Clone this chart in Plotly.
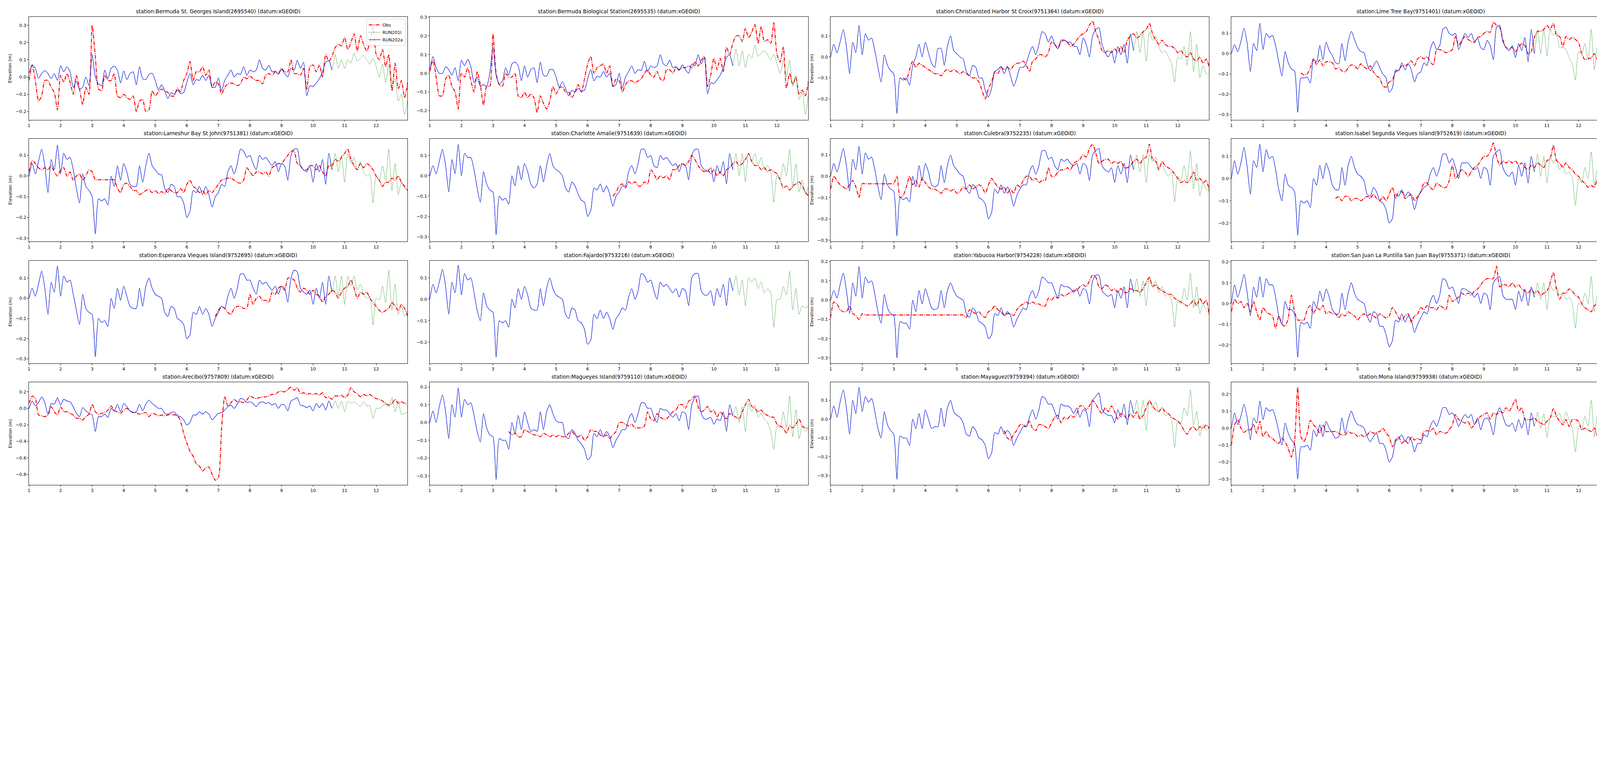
import plotly.graph_objects as go

# time axis (month number), shared by every panel
T = [round(1.0 + 0.1 * i, 1) for i in range(121)]

TITLES = [
    "station:Bermuda St. Georges Island(2695540) (datum:xGEOID)",
    "station:Bermuda Biological Station(2695535) (datum:xGEOID)",
    "station:Christiansted Harbor St Croix(9751364) (datum:xGEOID)",
    "station:Lime Tree Bay(9751401) (datum:xGEOID)",
    "station:Lameshur Bay St John(9751381) (datum:xGEOID)",
    "station:Charlotte Amalie(9751639) (datum:xGEOID)",
    "station:Culebra(9752235) (datum:xGEOID)",
    "station:Isabel Segunda Vieques Island(9752619) (datum:xGEOID)",
    "station:Esperanza Vieques Island(9752695) (datum:xGEOID)",
    "station:Fajardo(9753216) (datum:xGEOID)",
    "station:Yabucoa Harbor(9754228) (datum:xGEOID)",
    "station:San Juan La Puntilla San Juan Bay(9755371) (datum:xGEOID)",
    "station:Arecibo(9757809) (datum:xGEOID)",
    "station:Magueyes Island(9759110) (datum:xGEOID)",
    "station:Mayaguez(9759394) (datum:xGEOID)",
    "station:Mona Island(9759938) (datum:xGEOID)",
]
SERIES_NAMES = ["Obs", "RUN201l", "RUN202a"]
X_TICKS = list(range(1, 13))

# ---------------- 1 Bermuda St. Georges Island ----------------
obs_bsg = [
    -0.02, 0.07, -0.02, -0.14, -0.11, -0.02, -0.02, -0.06, -0.09, -0.19,
    0.01, -0.03, 0.02, -0.03, -0.1, 0.01, -0.07, -0.16, -0.06, -0.1,
    0.3, 0.12, -0.07, -0.08, 0.01, -0.02, -0.02, 0.02, -0.11, -0.12,
    -0.1, -0.12, -0.13, -0.11, -0.2, -0.14, -0.13, -0.2, -0.19, -0.08,
    -0.11, -0.085, -0.07, -0.08, -0.09, -0.11, -0.11, -0.065, -0.085, -0.02,
    0.02, 0.09, -0.02, 0.03, 0.03, 0.06, 0.01, 0.04, -0.06, -0.03,
    -0.04, -0.1, -0.06, -0.04, -0.035, -0.04, -0.05, -0.04, 0.0, -0.01,
    0.005, -0.01, -0.02, -0.02, -0.04, 0.01, 0.02, 0.01, 0.03, 0.02,
    0.05, 0.03, 0.03, 0.1, 0.02, 0.02, 0.01, 0.05, -0.07, 0.06,
    0.07, 0.03, 0.07, 0.0, 0.13, 0.09, 0.12, 0.17, 0.19, 0.18,
    0.23, 0.16, 0.2, 0.25, 0.15, 0.24, 0.19, 0.15, 0.2, 0.29,
    0.13, 0.1, 0.16, 0.06, 0.13, -0.08, 0.08, -0.07, -0.02, -0.12,
    -0.03,
]
mod_bsg = [
    0.025, 0.07, 0.05, -0.008, 0.02, 0.038, 0.02, -0.01, 0.02, -0.02,
    0.065, 0.03, 0.06, 0.03, -0.06, -0.025, -0.07, -0.06, 0.0, -0.05,
    0.13, 0.0, -0.04, -0.05, 0.04, -0.01, 0.05, 0.063, 0.04, -0.035,
    0.035, -0.015, 0.02, 0.03, -0.045, 0.06, -0.01, -0.015, 0.015, 0.022,
    -0.02, -0.075, -0.045, -0.08, -0.125, -0.09, -0.1, -0.075, -0.095, -0.09,
    -0.03, 0.02, -0.045, -0.015, -0.02, 0.01, -0.02, 0.01, -0.06, -0.06,
    -0.005, -0.08, -0.02, 0.01, 0.04, 0.0, 0.02, 0.015, 0.06, 0.01,
    0.04, 0.03, 0.04, 0.1, 0.05, 0.04, 0.068, 0.03, 0.035, 0.015,
    0.045, 0.02, 0.0, 0.05, 0.04, 0.097, 0.05, 0.085, -0.11, -0.05,
    -0.055, -0.035, -0.01, 0.03, 0.085, 0.095, 0.04,
]
tail_bsg = [
    0.13, 0.05, 0.1,
    0.05, 0.1, 0.08, 0.14, 0.09, 0.11, 0.125, 0.1, 0.075, 0.11,
    0.06, 0.0, 0.075, -0.03, 0.07, -0.07, -0.01, -0.14, -0.1, -0.22,
    -0.13,
]

# ---------------- 2 Bermuda Biological Station ----------------
obs_bbs = [
    0.01, 0.07, -0.02, -0.12, -0.12, -0.03, -0.01, -0.07, -0.1, -0.19,
    0.0, -0.02, 0.03, -0.04, -0.1, 0.01, -0.06, -0.17, -0.07, -0.07,
    0.21, 0.0, -0.06, -0.07, 0.0, -0.02, -0.02, 0.0, -0.12, -0.13,
    -0.1, -0.13, -0.11, -0.13, -0.21, -0.12, -0.16, -0.19, -0.15, -0.07,
    -0.11, -0.08, -0.07, -0.1, -0.1, -0.13, -0.1, -0.06, -0.1, -0.03,
    0.05, 0.09, 0.0, 0.03, 0.04, 0.05, 0.0, 0.04, -0.07, -0.03,
    -0.04, -0.1, -0.06, -0.04, -0.04, -0.05, -0.04, -0.03, 0.0, 0.02,
    -0.01, -0.02, 0.01, -0.03, -0.04, 0.02, 0.02, 0.0, 0.03, 0.02,
    0.03, 0.03, 0.04, 0.03, 0.06, 0.04, 0.07, 0.09, -0.07, -0.01,
    0.08, 0.02, 0.08, 0.01, 0.14, 0.1, 0.16, 0.2, 0.2, 0.17,
    0.24, 0.19, 0.22, 0.26, 0.16, 0.25, 0.17, 0.18, 0.16, 0.27,
    0.1, 0.06, 0.14, -0.08, 0.0, -0.06, -0.02, -0.11, -0.09, -0.12,
    -0.04,
]
mod_bbs = [
    0.02, 0.09, 0.03, 0.0, 0.0, 0.035, 0.02, -0.01, 0.03, -0.04,
    0.07, 0.04, 0.075, 0.035, -0.05, -0.02, -0.07, -0.06, -0.07, 0.0,
    0.14, -0.01, -0.06, -0.04, 0.03, -0.01, 0.05, 0.06, 0.04, -0.04,
    0.04, -0.02, 0.02, 0.03, -0.05, 0.06, -0.01, -0.015, 0.02, 0.02,
    -0.02, -0.075, -0.045, -0.08, -0.12, -0.09, -0.1, -0.08, -0.095, -0.09,
    -0.03, 0.02, -0.04, -0.015, -0.02, 0.01, -0.02, 0.0, -0.07, -0.06,
    0.0, -0.08, -0.02, 0.01, 0.04, 0.0, 0.02, 0.015, 0.065, 0.01,
    0.04, 0.03, 0.04, 0.1, 0.05, 0.04, 0.07, 0.03, 0.035, 0.015,
    0.045, 0.02, 0.0, 0.05, 0.04, 0.1, 0.05, 0.085, -0.11, -0.05,
    -0.055, -0.035, -0.01, 0.03, 0.085, 0.1, 0.04,
]
tail_bbs = [
    0.13, 0.04, 0.12,
    0.03, 0.1, 0.08, 0.15, 0.09, 0.11, 0.12, 0.1, 0.07, 0.1,
    0.05, 0.0, 0.07, -0.02, 0.07, -0.07, -0.01, -0.14, -0.1, -0.22,
    -0.1,
]

# ---------------- 3 Christiansted Harbor St Croix ----------------
obs_chs = [None] * 23 + [
    -0.1, -0.11, -0.06, -0.02, -0.05, -0.03, -0.04,
    -0.05, -0.06, -0.07, -0.08, -0.08, -0.09, -0.07, -0.06, -0.07, -0.06,
    -0.07, -0.08, -0.07, -0.08, -0.09, -0.1, -0.1, -0.12, -0.16, -0.2,
    -0.15, -0.12, -0.07, -0.08, -0.05, -0.06, -0.05, -0.06, -0.04, -0.03,
    -0.03, -0.02, -0.04, -0.07, -0.02, -0.01, 0.01, 0.01, 0.0, 0.02,
    0.07, 0.06, 0.04, 0.07, 0.08, 0.07, 0.05, 0.06, 0.08, 0.1,
    0.11, 0.12, 0.15, 0.17, 0.12, 0.08, 0.03, 0.02, 0.03, 0.02,
    0.04, 0.02, 0.05, 0.02, 0.08, 0.1, 0.11, 0.09, 0.1, 0.12,
    0.13, 0.16, 0.11, 0.08, 0.06, 0.08, 0.06, 0.05, 0.05, 0.04,
    0.02, 0.03, 0.01, 0.0, 0.02, -0.01, -0.02, 0.0, -0.03, -0.01,
    -0.05,
]
mod_chs = [
    0.0, 0.06, 0.02, 0.07, 0.13, 0.05, -0.08, 0.07, 0.02, 0.15,
    0.01, 0.11, 0.08, 0.09, 0.03, -0.05, -0.12, 0.01, -0.04, -0.065,
    -0.08, -0.27, -0.1, -0.11, -0.1, -0.135, -0.04, 0.0, 0.06, 0.0,
    0.07, 0.02, -0.03, -0.05, 0.04, 0.04, -0.04, 0.05, 0.1, 0.03,
    0.015, 0.0, -0.01, -0.07, -0.09, -0.04, -0.05, -0.1, -0.1, -0.16,
    -0.19, -0.15, -0.07, -0.06, -0.045, -0.08, -0.045, -0.09, -0.14, -0.1,
    -0.05, -0.05, -0.03, 0.02, 0.05, 0.01, 0.06, 0.12, 0.11, 0.07,
    0.1, 0.06, 0.04, 0.08, 0.08, 0.07, 0.07, 0.05, 0.05, 0.01,
    0.09, 0.06, 0.0, 0.1, 0.13, 0.14, 0.06, 0.02, 0.0, 0.03,
    -0.03, 0.05, 0.01, 0.06, -0.03, 0.11, 0.03,
]
tail_chs = [
    0.12, 0.02, 0.12,
    -0.02, 0.12, 0.08, 0.1, 0.05, 0.02, 0.03, 0.0, -0.03, -0.12,
    0.0, -0.01, 0.05, -0.04, 0.12, -0.07, 0.06, -0.1, -0.04, -0.08,
    -0.08,
]

# ---------------- 4 Lime Tree Bay ----------------
obs_ltb = [None] * 22 + [
    -0.095, -0.105, -0.1, -0.07, -0.025, -0.055, -0.03, -0.06,
    -0.04, -0.04, -0.045, -0.075, -0.07, -0.085, -0.09, -0.07, -0.055, -0.06,
    -0.075, -0.05, -0.065, -0.075, -0.06, -0.09, -0.11, -0.12, -0.16, -0.165,
    -0.14, -0.13, -0.09, -0.08, -0.06, -0.06, -0.05, -0.035, -0.06, -0.025,
    -0.015, -0.025, -0.015, -0.04, -0.055, 0.02, 0.02, 0.015, 0.005, 0.01,
    0.02, 0.085, 0.04, 0.065, 0.085, 0.07, 0.06, 0.055, 0.08, 0.085,
    0.1, 0.11, 0.105, 0.155, 0.14, 0.13, 0.07, 0.03, 0.025, 0.03,
    0.01, 0.03, 0.05, 0.04, 0.0, 0.01, 0.08, 0.11, 0.11, 0.12,
    0.14, 0.12, 0.15, 0.09, 0.085, 0.035, 0.085, 0.07, 0.08, 0.07,
    0.055, 0.0, -0.03, -0.025, -0.02, 0.0, -0.03, 0.0, -0.04, -0.06,
    -0.09,
]
mod_ltb = [
    0.0, 0.045, 0.01, 0.06, 0.125, 0.05, -0.088, 0.05, 0.015, 0.15,
    0.02, 0.1, 0.08, 0.09, 0.04, -0.04, -0.11, 0.01, -0.045, -0.075,
    -0.085, -0.29, -0.12, -0.12, -0.115, -0.145, -0.03, -0.04, 0.04, -0.03,
    0.057, 0.015, -0.01, -0.045, -0.05, 0.05, -0.035, 0.06, 0.11, 0.07,
    0.03, 0.01, 0.005, -0.05, -0.085, -0.06, -0.035, -0.07, -0.1, -0.12,
    -0.19, -0.17, -0.08, -0.085, -0.045, -0.08, -0.05, -0.08, -0.14, -0.1,
    -0.09, -0.045, -0.06, 0.02, 0.06, 0.02, 0.04, 0.12, 0.13, 0.1,
    0.09, 0.1, 0.02, 0.06, 0.1, 0.08, 0.1, 0.06, 0.075, 0.03,
    0.02, 0.065, 0.04, -0.03, 0.13, 0.14, 0.06, 0.03, 0.015, 0.04,
    -0.02, 0.05, 0.015, 0.08, -0.04, 0.12, 0.0,
]
tail_ltb = [
    0.12, 0.0, 0.12,
    -0.01, 0.12, 0.09, 0.11, 0.03, 0.03, 0.02, -0.02, -0.05, -0.13,
    0.01, 0.0, 0.05, -0.03, 0.12, -0.08, 0.05, -0.1, -0.07, -0.08,
    -0.09,
]

# ---------------- 5 Lameshur Bay St John ----------------
obs_lsb = [
    0.02, 0.075, 0.06, 0.04, 0.03, 0.04, 0.03, 0.05, 0.02, 0.0,
    0.03, 0.04, 0.0, 0.02, -0.02, 0.0, 0.01, -0.02, 0.0, 0.03,
    0.02, -0.018, -0.018, -0.018, -0.018, -0.018, -0.018, -0.018, -0.06, -0.08,
    -0.04, -0.035, -0.05, -0.07, -0.07, -0.09, -0.08, -0.07, -0.065, -0.08,
    -0.07, -0.085, -0.075, -0.085, -0.06, -0.07, -0.08, -0.08, -0.06, -0.08,
    -0.04, -0.02, -0.05, -0.06, -0.08, -0.07, -0.09, -0.07, -0.08, -0.06,
    -0.04, -0.02, -0.015, -0.01, -0.01, -0.02, -0.03, -0.035, -0.02, 0.04,
    0.02, 0.0, 0.02, 0.02, 0.01, 0.02, 0.0, 0.04, 0.05, 0.06,
    0.06, 0.08, 0.1, 0.12, 0.12, 0.06, 0.05, 0.03, 0.03, 0.05,
    0.05, 0.03, 0.05, 0.02, 0.0, 0.05, 0.05, 0.08, 0.07, 0.09,
    0.11, 0.13, 0.08, 0.05, 0.03, 0.06, 0.04, 0.06, 0.05, 0.03,
    0.0, -0.02, -0.05, -0.03, -0.03, -0.01, -0.02, 0.0, -0.03, -0.05,
    -0.07,
]
mod_lsb = [
    0.0, 0.06, 0.01, 0.07, 0.13, 0.05, -0.08, 0.08, 0.03, 0.15,
    0.01, 0.11, 0.08, 0.09, 0.03, -0.06, -0.13, 0.01, -0.05, -0.07,
    -0.1, -0.28, -0.11, -0.12, -0.11, -0.14, 0.0, -0.05, 0.05, -0.02,
    0.06, 0.02, -0.04, -0.05, -0.05, 0.05, -0.03, 0.05, 0.11, 0.05,
    0.03, 0.01, 0.005, -0.06, -0.08, -0.04, -0.05, -0.1, -0.1, -0.13,
    -0.2, -0.17, -0.07, -0.08, -0.05, -0.09, -0.05, -0.09, -0.15, -0.1,
    -0.08, -0.04, -0.05, 0.02, 0.05, 0.01, 0.06, 0.13, 0.12, 0.09,
    0.1, 0.06, 0.03, 0.1, 0.08, 0.09, 0.07, 0.05, 0.07, 0.02,
    0.06, 0.05, -0.02, 0.1, 0.13, 0.13, 0.05, 0.03, 0.02, 0.05,
    -0.03, 0.06, 0.02, 0.08, -0.04, 0.11, 0.03,
]
tail_lsb = [
    0.11, 0.02, 0.1,
    -0.03, 0.11, 0.06, 0.09, 0.03, 0.07, 0.02, 0.0, 0.01, -0.13,
    0.0, -0.02, 0.05, -0.02, 0.13, -0.07, 0.06, -0.09, -0.03, -0.06,
    -0.07,
]

# ---------------- 6 Charlotte Amalie ----------------
obs_cha = [None] * 58 + [
    -0.1, -0.08,
    -0.05, -0.04, -0.06, -0.03, -0.04, -0.03, -0.05, -0.05, -0.03, -0.04,
    0.03, 0.01, -0.02, 0.0, -0.01, 0.0, -0.02, 0.03, 0.03, 0.05,
    0.06, 0.05, 0.07, 0.1, 0.08, 0.05, 0.03, 0.02, 0.03, 0.01,
    0.03, 0.0, 0.02, 0.0, 0.03, 0.04, 0.06, 0.07, 0.05, 0.06,
    0.08, 0.11, 0.07, 0.05, 0.05, 0.03, 0.04, 0.02, 0.03, 0.02,
    0.01, -0.02, -0.06, -0.05, -0.07, -0.05, -0.04, -0.03, -0.05, -0.08,
    -0.1,
]
mod_cha = [
    0.0, 0.05, 0.01, 0.07, 0.13, 0.05, -0.08, 0.08, 0.01, 0.155,
    0.0, 0.11, 0.09, 0.09, 0.03, -0.06, -0.13, 0.02, -0.04, -0.07,
    -0.08, -0.29, -0.1, -0.12, -0.11, -0.14, 0.0, -0.05, 0.05, -0.02,
    0.06, 0.02, -0.04, -0.06, -0.04, 0.05, -0.03, 0.05, 0.11, 0.05,
    0.03, 0.02, 0.0, -0.06, -0.08, -0.03, -0.05, -0.09, -0.12, -0.13,
    -0.2, -0.17, -0.06, -0.07, -0.04, -0.08, -0.05, -0.09, -0.15, -0.1,
    -0.08, -0.05, -0.05, 0.02, 0.05, 0.01, 0.06, 0.13, 0.13, 0.09,
    0.1, 0.05, 0.04, 0.1, 0.08, 0.09, 0.07, 0.05, 0.06, 0.02,
    0.06, 0.05, -0.02, 0.1, 0.13, 0.13, 0.05, 0.03, 0.02, 0.04,
    -0.03, 0.05, 0.01, 0.07, -0.04, 0.11, 0.03,
]
tail_cha = [
    0.11, 0.0, 0.11,
    -0.03, 0.11, 0.07, 0.11, 0.05, 0.09, 0.03, 0.05, 0.02, -0.13,
    0.0, -0.02, 0.06, 0.0, 0.13, -0.06, 0.06, -0.08, -0.02, -0.09,
    -0.05,
]

# ---------------- 7 Culebra ----------------
obs_cul = [
    -0.06, 0.0, -0.02, -0.04, -0.05, -0.06, -0.04, -0.02, -0.05, -0.1,
    -0.035, -0.035, -0.035, -0.035, -0.035, -0.035, -0.035, -0.035, -0.035, -0.035,
    -0.035, 0.0, -0.1, -0.09, -0.05, 0.0, -0.04, -0.02, -0.05, -0.01,
    -0.03, -0.05, -0.06, -0.06, -0.07, -0.08, -0.06, -0.06, -0.07, -0.06,
    -0.08, -0.07, -0.05, -0.06, -0.04, -0.06, -0.05, -0.04, -0.05, -0.08,
    -0.04, -0.01, -0.03, -0.05, -0.06, -0.05, -0.08, -0.06, -0.08, -0.04,
    -0.05, -0.02, 0.0, 0.0, -0.02, -0.01, -0.03, -0.02, -0.02, 0.04,
    0.0, 0.0, 0.02, 0.03, 0.03, 0.04, 0.03, 0.06, 0.07, 0.08,
    0.1, 0.09, 0.13, 0.15, 0.11, 0.06, 0.07, 0.08, 0.08, 0.06,
    0.07, 0.06, 0.07, 0.04, 0.04, 0.05, 0.07, 0.08, 0.06, 0.08,
    0.09, 0.15, 0.08, 0.07, 0.03, 0.07, 0.05, 0.04, 0.03, 0.01,
    -0.01, -0.03, -0.02, -0.03, -0.01, 0.02, -0.02, -0.01, -0.03, -0.02,
    -0.07,
]
mod_cul = [
    0.0, 0.06, 0.02, 0.07, 0.13, 0.05, -0.07, 0.08, 0.03, 0.14,
    0.01, 0.11, 0.08, 0.09, 0.03, -0.05, -0.11, 0.01, -0.04, -0.06,
    -0.07, -0.28, -0.1, -0.11, -0.1, -0.12, 0.0, -0.05, 0.05, -0.02,
    0.06, 0.02, -0.04, -0.05, -0.04, 0.05, -0.03, 0.05, 0.1, 0.05,
    0.03, 0.01, 0.0, -0.06, -0.08, -0.04, -0.05, -0.1, -0.11, -0.13,
    -0.2, -0.17, -0.06, -0.08, -0.04, -0.08, -0.05, -0.08, -0.14, -0.09,
    -0.06, -0.04, -0.04, 0.02, 0.05, 0.01, 0.05, 0.12, 0.12, 0.08,
    0.09, 0.05, 0.03, 0.08, 0.07, 0.08, 0.06, 0.05, 0.06, 0.01,
    0.06, 0.05, -0.02, 0.1, 0.12, 0.13, 0.05, 0.03, 0.02, 0.04,
    -0.03, 0.05, 0.01, 0.06, -0.03, 0.1, 0.03,
]
tail_cul = [
    0.1, 0.02, 0.1,
    -0.03, 0.1, 0.07, 0.09, 0.04, 0.06, 0.02, 0.0, 0.02, -0.12,
    0.0, -0.02, 0.05, -0.02, 0.12, -0.06, 0.06, -0.09, -0.03, -0.06,
    -0.07,
]

# ---------------- 8 Isabel Segunda Vieques Island ----------------
obs_isv = [None] * 33 + [
    -0.09, -0.08, -0.1, -0.08, -0.08, -0.1, -0.09,
    -0.09, -0.1, -0.09, -0.08, -0.09, -0.07, -0.09, -0.1, -0.08, -0.1,
    -0.07, -0.04, -0.09, -0.06, -0.06, -0.09, -0.08, -0.07, -0.1, -0.08,
    -0.06, -0.02, -0.02, -0.04, -0.05, -0.02, -0.03, -0.04, -0.04, -0.01,
    0.06, 0.0, 0.02, 0.04, 0.03, 0.01, 0.03, 0.05, 0.06, 0.08,
    0.1, 0.1, 0.12, 0.16, 0.1, 0.06, 0.08, 0.07, 0.08, 0.07,
    0.08, 0.06, 0.07, 0.05, 0.04, 0.06, 0.05, 0.07, 0.06, 0.05,
    0.08, 0.09, 0.15, 0.08, 0.07, 0.05, 0.07, 0.05, 0.04, 0.02,
    0.01, -0.01, -0.02, -0.04, -0.03, -0.04, 0.0, -0.04, -0.02, -0.01,
    -0.08,
]
mod_isv = [
    0.0, 0.08, 0.02, 0.07, 0.14, 0.05, -0.07, 0.08, 0.05, 0.155,
    0.03, 0.13, 0.09, 0.1, 0.04, -0.05, -0.1, 0.02, -0.03, -0.04,
    -0.06, -0.255, -0.1, -0.11, -0.1, -0.13, 0.0, -0.03, 0.06, 0.0,
    0.07, 0.03, -0.03, -0.05, -0.05, 0.05, -0.03, 0.06, 0.1, 0.05,
    0.02, 0.01, -0.01, -0.07, -0.08, -0.04, -0.06, -0.1, -0.11, -0.14,
    -0.2, -0.18, -0.07, -0.08, -0.05, -0.08, -0.06, -0.08, -0.14, -0.09,
    -0.06, -0.04, -0.03, 0.02, 0.05, 0.01, 0.05, 0.11, 0.11, 0.07,
    0.09, 0.05, 0.0, 0.07, 0.07, 0.07, 0.05, 0.04, 0.05, 0.0,
    0.05, 0.04, -0.03, 0.1, 0.12, 0.13, 0.05, 0.02, 0.01, 0.03,
    -0.03, 0.06, 0.01, 0.07, -0.02, 0.1, 0.03,
]
tail_isv = [
    0.11, 0.01, 0.1,
    -0.02, 0.1, 0.07, 0.09, 0.04, 0.06, 0.02, 0.03, 0.0, -0.12,
    0.0, -0.02, 0.05, 0.0, 0.12, -0.03, 0.05, -0.04, -0.02, -0.03,
    -0.05,
]

# ---------------- 9 Esperanza Vieques Island ----------------
obs_esp = [None] * 59 + [
    -0.09,
    -0.06, -0.04, -0.05, -0.07, -0.08, -0.05, -0.04, -0.04, -0.05, -0.05,
    0.02, -0.03, 0.0, 0.01, -0.01, -0.01, -0.02, 0.03, 0.02, 0.05,
    0.06, 0.04, 0.1, 0.1, 0.09, 0.05, 0.03, 0.05, 0.04, 0.02,
    0.04, 0.02, 0.01, -0.02, 0.01, 0.02, 0.04, 0.03, 0.0, 0.03,
    0.05, 0.06, 0.09, 0.05, 0.0, 0.03, 0.02, 0.03, 0.0, -0.02,
    -0.04, -0.06, -0.07, -0.06, -0.05, -0.02, -0.04, -0.06, -0.03, -0.05,
    -0.09,
]
mod_esp = [
    0.0, 0.05, 0.01, 0.07, 0.135, 0.05, -0.08, 0.08, 0.03, 0.16,
    0.01, 0.11, 0.08, 0.09, 0.02, -0.06, -0.13, 0.02, -0.05, -0.07,
    -0.08, -0.29, -0.1, -0.12, -0.11, -0.14, 0.0, -0.05, 0.05, -0.01,
    0.06, 0.01, -0.04, -0.05, -0.05, 0.05, -0.04, 0.06, 0.1, 0.05,
    0.02, 0.01, 0.0, -0.07, -0.09, -0.04, -0.05, -0.1, -0.11, -0.13,
    -0.2, -0.18, -0.07, -0.08, -0.04, -0.08, -0.05, -0.08, -0.14, -0.1,
    -0.07, -0.04, -0.05, 0.01, 0.05, 0.0, 0.05, 0.12, 0.12, 0.09,
    0.09, 0.05, 0.02, 0.09, 0.07, 0.08, 0.06, 0.04, 0.06, 0.02,
    0.06, 0.05, -0.02, 0.1, 0.14, 0.13, 0.05, 0.03, 0.02, 0.04,
    -0.03, 0.05, 0.0, 0.08, -0.03, 0.11, 0.03,
]
tail_esp = [
    0.11, 0.01, 0.11,
    -0.03, 0.11, 0.06, 0.11, 0.04, 0.07, 0.02, 0.0, 0.01, -0.13,
    0.0, -0.01, 0.06, -0.02, 0.14, -0.06, 0.07, -0.08, -0.04, -0.09,
    -0.06,
]

# ---------------- 10 Fajardo (no observations) ----------------
obs_faj = []
mod_faj = [
    0.0, 0.07, 0.03, 0.08, 0.14, 0.06, -0.07, 0.08, 0.03, 0.16,
    0.02, 0.12, 0.09, 0.1, 0.03, -0.05, -0.1, 0.03, -0.03, -0.05,
    -0.06, -0.27, -0.1, -0.11, -0.1, -0.13, 0.0, -0.04, 0.05, 0.0,
    0.06, 0.02, -0.04, -0.05, -0.05, 0.05, -0.03, 0.05, 0.1, 0.05,
    0.02, 0.01, 0.0, -0.07, -0.09, -0.04, -0.05, -0.1, -0.11, -0.14,
    -0.21, -0.19, -0.07, -0.09, -0.05, -0.09, -0.06, -0.09, -0.14, -0.09,
    -0.07, -0.04, -0.05, 0.01, 0.05, 0.0, 0.04, 0.12, 0.11, 0.08,
    0.09, 0.04, 0.0, 0.08, 0.06, 0.07, 0.05, 0.03, 0.05, 0.01,
    0.05, 0.04, -0.03, 0.1, 0.12, 0.12, 0.04, 0.02, 0.02, 0.04,
    -0.03, 0.05, 0.01, 0.07, -0.03, 0.1, 0.04,
]
tail_faj = [
    0.11, 0.02, 0.09,
    -0.03, 0.1, 0.08, 0.1, 0.05, 0.08, 0.03, 0.05, 0.03, -0.13,
    0.0, 0.0, 0.06, 0.02, 0.13, -0.05, 0.05, -0.07, -0.03, -0.04,
    -0.03,
]

# ---------------- 11 Yabucoa Harbor ----------------
obs_yab = [
    -0.09, -0.01, -0.02, -0.05, -0.06, -0.06, -0.03, -0.07, -0.08, -0.1,
    -0.07, -0.077, -0.077, -0.077, -0.077, -0.077, -0.077, -0.077, -0.077, -0.077,
    -0.077, -0.077, -0.077, -0.077, -0.077, -0.077, -0.077, -0.077, -0.077, -0.077,
    -0.077, -0.077, -0.077, -0.077, -0.077, -0.077, -0.077, -0.077, -0.077, -0.077,
    -0.077, -0.077, -0.077, -0.09, -0.05, -0.06, -0.07, -0.06, -0.08, -0.09,
    -0.06, -0.05, -0.03, -0.05, -0.06, -0.08, -0.07, -0.07, -0.08, -0.05,
    -0.03, -0.02, -0.01, -0.02, -0.01, -0.02, -0.02, -0.03, -0.03, 0.01,
    0.0, 0.02, 0.01, 0.03, 0.02, 0.03, 0.04, 0.05, 0.05, 0.07,
    0.08, 0.07, 0.1, 0.13, 0.12, 0.07, 0.06, 0.08, 0.07, 0.05,
    0.06, 0.04, 0.06, 0.04, 0.04, 0.06, 0.05, 0.05, 0.04, 0.06,
    0.09, 0.12, 0.07, 0.08, 0.06, 0.05, 0.04, 0.03, 0.03, 0.01,
    0.0, -0.01, -0.02, -0.03, -0.02, 0.0, -0.03, 0.01, -0.02, 0.0,
    -0.08,
]
mod_yab = [
    0.0, 0.05, 0.01, 0.08, 0.14, 0.05, -0.07, 0.09, 0.02, 0.175,
    0.01, 0.12, 0.09, 0.1, 0.03, -0.06, -0.12, 0.03, -0.04, -0.07,
    -0.08, -0.3, -0.11, -0.12, -0.12, -0.15, 0.0, -0.06, 0.05, -0.02,
    0.06, 0.01, -0.04, -0.05, -0.04, 0.05, -0.04, 0.05, 0.09, 0.05,
    0.02, 0.01, 0.0, -0.07, -0.09, -0.04, -0.06, -0.11, -0.12, -0.14,
    -0.2, -0.18, -0.07, -0.08, -0.04, -0.08, -0.06, -0.08, -0.14, -0.1,
    -0.07, -0.04, -0.05, 0.02, 0.05, 0.01, 0.05, 0.12, 0.11, 0.09,
    0.09, 0.05, 0.01, 0.08, 0.07, 0.07, 0.06, 0.04, 0.06, 0.02,
    0.06, 0.05, -0.02, 0.1, 0.13, 0.13, 0.05, 0.03, 0.02, 0.03,
    -0.04, 0.05, 0.01, 0.07, -0.04, 0.11, 0.04,
]
tail_yab = [
    0.11, 0.02, 0.1,
    -0.03, 0.12, 0.07, 0.1, 0.04, 0.07, 0.02, 0.03, 0.0, -0.14,
    0.0, -0.02, 0.06, 0.0, 0.14, -0.04, 0.07, -0.07, -0.02, -0.05,
    -0.07,
]

# ---------------- 12 San Juan La Puntilla ----------------
obs_sjb = [
    -0.04, 0.02, 0.0, 0.01, -0.02, 0.0, -0.04, 0.01, -0.04, -0.08,
    -0.02, -0.04, -0.05, -0.06, -0.12, -0.06, -0.1, -0.11, -0.07, 0.04,
    -0.04, -0.08, -0.08, -0.08, -0.03, -0.01, -0.05, -0.02, -0.03, -0.01,
    -0.05, -0.04, -0.05, -0.05, -0.07, -0.05, -0.06, -0.04, -0.05, -0.06,
    -0.08, -0.06, -0.05, -0.06, -0.05, -0.06, -0.07, -0.05, -0.06, -0.07,
    -0.06, -0.02, -0.04, -0.07, -0.08, -0.06, -0.05, -0.09, -0.06, -0.05,
    -0.02, -0.03, -0.01, -0.02, -0.02, -0.03, -0.01, -0.02, -0.03, 0.04,
    0.01, 0.02, 0.03, 0.05, 0.04, 0.05, 0.04, 0.06, 0.07, 0.09,
    0.11, 0.12, 0.12, 0.12, 0.18, 0.08, 0.09, 0.09, 0.08, 0.1,
    0.08, 0.09, 0.07, 0.06, 0.05, 0.07, 0.05, 0.06, 0.04, 0.05,
    0.06, 0.1, 0.15, 0.07, 0.02, 0.05, 0.05, 0.07, 0.06, 0.04,
    0.03, 0.0, -0.02, -0.03, -0.04, -0.01, 0.0, 0.03, -0.02, -0.05,
    -0.08,
]
mod_sjb = [
    0.0, 0.09, 0.03, 0.08, 0.14, 0.05, -0.06, 0.08, 0.03, 0.13,
    0.03, 0.12, 0.09, 0.09, 0.03, -0.06, -0.1, 0.01, -0.03, -0.03,
    -0.05, -0.26, -0.09, -0.1, -0.09, -0.12, 0.01, -0.02, 0.06, 0.01,
    0.07, 0.03, -0.03, -0.05, -0.05, 0.05, -0.03, 0.05, 0.1, 0.05,
    0.02, 0.01, 0.0, -0.06, -0.09, -0.04, -0.05, -0.11, -0.11, -0.15,
    -0.21, -0.18, -0.08, -0.09, -0.05, -0.09, -0.06, -0.08, -0.14, -0.1,
    -0.07, -0.04, -0.05, 0.01, 0.04, 0.0, 0.04, 0.12, 0.11, 0.07,
    0.08, 0.04, 0.0, 0.07, 0.07, 0.06, 0.05, 0.03, 0.05, 0.0,
    0.05, 0.04, -0.03, 0.1, 0.12, 0.13, 0.04, 0.02, 0.02, 0.02,
    -0.03, 0.06, 0.01, 0.07, -0.01, 0.08, 0.03,
]
tail_sjb = [
    0.1, 0.02, 0.1,
    -0.03, 0.09, 0.06, 0.08, 0.04, 0.05, 0.02, 0.03, 0.0, -0.12,
    0.0, -0.01, 0.05, 0.0, 0.13, -0.04, 0.05, -0.06, -0.03, -0.05,
    -0.05,
]

# ---------------- 13 Arecibo ----------------
obs_are = [
    0.06, 0.15, 0.12, -0.08, -0.09, -0.1, -0.08, 0.02, -0.04, -0.08,
    0.02, -0.04, -0.04, -0.06, -0.08, -0.12, -0.12, -0.14, -0.1, -0.07,
    0.05, -0.04, -0.07, -0.06, -0.05, -0.02, 0.03, -0.03, -0.04, -0.06,
    -0.02, 0.0, -0.03, -0.05, -0.05, -0.07, -0.06, -0.05, -0.1, -0.06,
    -0.07, -0.09, -0.08, -0.09, -0.08, -0.07, -0.08, -0.08, -0.16, -0.3,
    -0.42, -0.52, -0.58, -0.67, -0.7, -0.76, -0.72, -0.71, -0.8, -0.87,
    -0.84, -0.25, 0.14, 0.03, 0.07, 0.11, 0.08, 0.08, 0.07, 0.1,
    0.15, 0.13, 0.12, 0.13, 0.14, 0.14, 0.15, 0.17, 0.17, 0.2,
    0.21, 0.2, 0.23, 0.26, 0.22, 0.25, 0.18, 0.19, 0.17, 0.18,
    0.17, 0.18, 0.16, 0.19, 0.13, 0.14, 0.11, 0.15, 0.15, 0.16,
    0.13, 0.16, 0.25, 0.2, 0.18, 0.14, 0.17, 0.15, 0.17, 0.14,
    0.12, 0.11, 0.09, 0.06, 0.04, 0.06, 0.11, 0.06, 0.08, 0.06,
    0.05,
]
mod_are = [
    0.0, 0.09, 0.03, 0.07, 0.14, 0.07, -0.07, 0.06, 0.05, 0.13,
    0.04, 0.11, 0.09, 0.08, 0.02, -0.06, -0.1, 0.01, -0.03, -0.06,
    -0.08, -0.28, -0.1, -0.1, -0.07, -0.11, 0.0, -0.03, 0.05, -0.04,
    0.06, 0.02, -0.03, -0.05, -0.04, 0.05, -0.03, 0.05, 0.1, 0.06,
    0.03, 0.0, 0.0, -0.06, -0.07, -0.05, -0.04, -0.09, -0.1, -0.14,
    -0.2, -0.17, -0.08, -0.08, -0.04, -0.07, -0.04, -0.07, -0.14, -0.1,
    -0.06, -0.05, -0.02, 0.02, 0.04, 0.0, 0.05, 0.12, 0.11, 0.07,
    0.08, 0.06, 0.02, 0.07, 0.08, 0.06, 0.07, 0.04, 0.06, 0.0,
    0.05, 0.04, -0.03, 0.09, 0.11, 0.13, 0.04, 0.03, 0.01, 0.03,
    -0.03, 0.06, 0.01, 0.06, -0.02, 0.09, 0.0,
]
tail_are = [
    0.09, 0.0, 0.09,
    -0.04, 0.09, 0.06, 0.08, 0.05, 0.02, 0.08, 0.03, 0.03, -0.12,
    0.0, 0.0, 0.03, 0.05, 0.02, 0.13, -0.04, 0.09, -0.07, -0.06,
    -0.05,
]

# ---------------- 14 Magueyes Island ----------------
obs_mag = [None] * 25 + [
    -0.05, -0.07, -0.06, -0.08, -0.08,
    -0.04, -0.05, -0.06, -0.07, -0.07, -0.08, -0.06, -0.07, -0.08, -0.07,
    -0.08, -0.07, -0.08, -0.08, -0.06, -0.05, -0.07, -0.08, -0.07, -0.1,
    -0.08, -0.04, -0.05, -0.05, -0.07, -0.08, -0.07, -0.09, -0.07, -0.05,
    0.0, 0.0, -0.01, -0.02, -0.01, -0.03, -0.03, -0.03, -0.02, 0.06,
    0.02, 0.01, 0.05, 0.03, 0.02, 0.02, 0.04, 0.06, 0.07, 0.1,
    0.1, 0.08, 0.12, 0.13, 0.15, 0.09, 0.06, 0.07, 0.09, 0.06,
    0.07, 0.03, 0.06, 0.04, 0.02, 0.05, 0.04, 0.03, 0.02, 0.06,
    0.1, 0.13, 0.09, 0.08, 0.06, 0.07, 0.05, 0.04, 0.03, 0.03,
    -0.01, -0.02, -0.03, -0.06, -0.02, -0.03, -0.01, 0.02, -0.02, -0.03,
    -0.03,
]
mod_mag = [
    0.0, 0.065, 0.0, 0.09, 0.155, 0.06, -0.09, 0.1, 0.03, 0.195,
    0.03, 0.13, 0.1, 0.11, 0.04, -0.05, -0.11, 0.05, -0.03, -0.07,
    -0.08, -0.32, -0.09, -0.1, -0.1, -0.15, 0.0, -0.06, 0.04, -0.04,
    0.06, 0.0, -0.05, -0.04, -0.05, 0.06, -0.04, 0.06, 0.1, 0.05,
    0.01, 0.0, 0.0, -0.08, -0.09, -0.04, -0.06, -0.1, -0.12, -0.15,
    -0.21, -0.19, -0.06, -0.08, -0.04, -0.08, -0.05, -0.08, -0.14, -0.1,
    -0.07, -0.04, -0.04, 0.02, 0.05, 0.0, 0.05, 0.11, 0.11, 0.08,
    0.08, 0.03, 0.0, 0.08, 0.07, 0.07, 0.05, 0.03, 0.05, 0.01,
    0.06, 0.05, -0.04, 0.1, 0.14, 0.15, 0.05, 0.02, 0.02, 0.03,
    -0.01, 0.02, 0.01, 0.06, -0.05, 0.1, 0.04,
]
tail_mag = [
    0.09, 0.0, 0.09,
    -0.05, 0.11, 0.06, 0.1, 0.03, 0.05, 0.02, 0.0, -0.05, -0.15,
    -0.02, -0.03, 0.06, -0.03, 0.15, -0.08, 0.07, -0.09, -0.02, -0.05,
    -0.03,
]

# ---------------- 15 Mayaguez ----------------
obs_may = [None] * 55 + [
    -0.06, -0.1, -0.11, -0.08, -0.06,
    -0.03, -0.03, -0.04, -0.01, -0.05, -0.06, -0.03, -0.03, -0.04, -0.05,
    -0.02, 0.01, 0.02, -0.02, 0.01, 0.0, 0.02, 0.01, 0.03, 0.07,
    0.07, 0.05, 0.07, 0.1, 0.08, 0.05, 0.03, 0.06, 0.04, 0.07,
    0.04, 0.0, 0.03, 0.02, 0.0, 0.03, 0.01, 0.04, 0.0, 0.02,
    0.06, 0.1, 0.07, 0.05, 0.04, 0.06, 0.04, 0.03, 0.01, 0.0,
    -0.01, -0.03, -0.06, -0.08, -0.05, -0.04, -0.06, -0.04, -0.05, -0.03,
    -0.05,
]
mod_may = [
    0.0, 0.07, 0.01, 0.09, 0.155, 0.06, -0.08, 0.1, 0.03, 0.17,
    0.04, 0.12, 0.09, 0.11, 0.04, -0.05, -0.1, 0.04, -0.03, -0.06,
    -0.08, -0.32, -0.09, -0.1, -0.1, -0.14, 0.0, -0.05, 0.03, -0.05,
    0.05, 0.0, -0.05, -0.04, -0.04, 0.06, -0.04, 0.06, 0.1, 0.04,
    0.02, 0.01, -0.02, -0.08, -0.09, -0.04, -0.06, -0.1, -0.11, -0.14,
    -0.21, -0.18, -0.07, -0.08, -0.04, -0.08, -0.06, -0.08, -0.14, -0.1,
    -0.07, -0.04, -0.04, 0.01, 0.05, 0.0, 0.05, 0.12, 0.11, 0.08,
    0.08, 0.04, 0.0, 0.08, 0.07, 0.07, 0.06, 0.03, 0.06, 0.01,
    0.05, 0.04, -0.04, 0.1, 0.12, 0.14, 0.05, 0.03, 0.02, 0.02,
    -0.02, 0.05, 0.01, 0.08, -0.03, 0.1, 0.03,
]
tail_may = [
    0.1, 0.0, 0.1,
    -0.06, 0.1, 0.06, 0.09, 0.04, 0.06, 0.02, 0.03, 0.0, -0.15,
    -0.01, -0.02, 0.06, 0.02, 0.155, -0.03, 0.04, -0.09, -0.03, -0.06,
    -0.04,
]

# ---------------- 16 Mona Island ----------------
obs_mon = [
    -0.1, 0.02, 0.05, 0.0, -0.025, -0.01, -0.01, 0.02, -0.03, 0.04,
    -0.05, -0.02, -0.05, -0.06, -0.08, -0.09, -0.06, -0.08, -0.12, -0.17,
    -0.08, 0.24, -0.05, -0.08, -0.03, 0.045, 0.02, 0.0, -0.03, 0.02,
    -0.02, -0.02, -0.02, -0.02, -0.03, -0.04, -0.04, -0.02, -0.03, -0.03,
    -0.05, -0.04, -0.05, -0.04, -0.02, -0.03, -0.025, -0.02, 0.0, -0.03,
    -0.05, -0.11, -0.07, -0.05, -0.09, -0.07, -0.09, -0.05, -0.07, -0.06,
    -0.07, -0.02, -0.015, -0.02, 0.0, -0.04, -0.02, -0.025, -0.03, -0.01,
    0.02, 0.08, 0.05, 0.04, 0.03, 0.04, 0.0, 0.02, 0.05, 0.07,
    0.08, 0.09, 0.05, 0.09, 0.08, 0.1, 0.09, 0.12, 0.1, 0.13,
    0.17, 0.1, 0.12, 0.05, 0.05, 0.05, 0.06, 0.04, 0.03, 0.02,
    0.04, 0.06, 0.115, 0.07, 0.04, 0.02, 0.05, 0.01, 0.05, 0.05,
    0.04, -0.01, 0.0, -0.01, -0.02, 0.0, -0.05, -0.07, -0.05, -0.06,
    -0.1,
]
mod_mon = [
    0.0, 0.09, 0.02, 0.07, 0.14, 0.06, -0.07, 0.06, 0.03, 0.16,
    0.05, 0.12, 0.1, 0.11, 0.06, -0.02, -0.1, 0.03, -0.03, -0.07,
    -0.09, -0.3, -0.11, -0.11, -0.1, -0.13, -0.01, -0.05, 0.02, -0.05,
    0.04, 0.0, -0.03, -0.06, -0.05, 0.06, -0.03, 0.05, 0.1, 0.05,
    0.02, 0.015, 0.0, -0.05, -0.08, -0.05, -0.03, -0.09, -0.09, -0.13,
    -0.2, -0.17, -0.08, -0.06, -0.04, -0.08, -0.05, -0.07, -0.14, -0.09,
    -0.09, -0.04, -0.05, 0.01, 0.045, 0.01, 0.06, 0.12, 0.12, 0.08,
    0.09, 0.06, 0.01, 0.05, 0.08, 0.06, 0.08, 0.02, 0.06, -0.01,
    0.05, 0.06, 0.03, -0.04, 0.08, 0.12, 0.07, 0.02, 0.01, 0.03,
    -0.02, 0.05, 0.0, 0.06, -0.04, 0.09, 0.01,
]
tail_mon = [
    0.095, 0.0, 0.085,
    -0.055, 0.06, 0.07, 0.07, 0.09, 0.03, 0.095, 0.05, 0.0, -0.14,
    0.0, -0.01, 0.07, 0.01, 0.165, -0.05, 0.09, -0.08, -0.04, -0.02,
    -0.02,
]

STATIONS = [
    (obs_bsg, mod_bsg, tail_bsg), (obs_bbs, mod_bbs, tail_bbs),
    (obs_chs, mod_chs, tail_chs), (obs_ltb, mod_ltb, tail_ltb),
    (obs_lsb, mod_lsb, tail_lsb), (obs_cha, mod_cha, tail_cha),
    (obs_cul, mod_cul, tail_cul), (obs_isv, mod_isv, tail_isv),
    (obs_esp, mod_esp, tail_esp), (obs_faj, mod_faj, tail_faj),
    (obs_yab, mod_yab, tail_yab), (obs_sjb, mod_sjb, tail_sjb),
    (obs_are, mod_are, tail_are), (obs_mag, mod_mag, tail_mag),
    (obs_may, mod_may, tail_may), (obs_mon, mod_mon, tail_mon),
]

# ---------------- layout (style only) ----------------
# The page is shown at a 1.25 device-pixel ratio, so the figure is laid out
# in CSS pixels = reference pixels * S.
S = 0.8
RW, RH = 5150, 1950           # reference picture size
W, H = RW * S, RH * S
Y_RANGES = [
    (-0.248, 0.348), (-0.248, 0.301), (-0.299, 0.19), (-0.326, 0.181),
    (-0.316, 0.18), (-0.323, 0.182), (-0.306, 0.176), (-0.283, 0.179),
    (-0.3215, 0.187), (-0.2985, 0.181), (-0.328, 0.206), (-0.2885, 0.2075),
    (-0.929, 0.317), (-0.351, 0.226), (-0.35, 0.196), (-0.335, 0.27),
]
Y_DTICK = [0.1] * 12 + [0.2] + [0.1] * 3
FONT = "DejaVu Sans"
COL_LEFT, COL_STEP, AX_W = 78, 1283.8, 1212
ROW_TOP, ROW_STEP, AX_H = 37, 392, 331
RED, GREEN, BLUE = "#ff0000", "#008000", "#0000ff"
TICK_FS, TITLE_FS = 13.9 * S, 16.7 * S


def px(v):
    return "%.1fpx" % (v * S)


fig = go.Figure()
annotations = []
layout = dict(
    width=W, height=H, margin=dict(l=0, r=0, t=0, b=0, pad=0),
    paper_bgcolor="white", plot_bgcolor="white",
    font=dict(family=FONT, size=TICK_FS, color="black"),
    showlegend=True,
    legend=dict(
        x=1284 / RW, xanchor="right", y=1 - 43 / RH, yanchor="top",
        bgcolor="rgba(255,255,255,0.8)", bordercolor="#cccccc", borderwidth=1,
        font=dict(family=FONT, size=TICK_FS), itemwidth=30, tracegroupgap=0,
    ),
)

for k, (obs, mod, tail) in enumerate(STATIONS):
    r, c = divmod(k, 4)
    sfx = "" if k == 0 else str(k + 1)
    x0 = COL_LEFT + c * COL_STEP
    top = ROW_TOP + r * ROW_STEP
    xd = [x0 / RW, (x0 + AX_W) / RW]
    yd = [1 - (top + AX_H) / RH, 1 - top / RH]
    first = k == 0
    if obs:
        fig.add_trace(go.Scatter(
            x=T[:len(obs)], y=obs, mode="lines", name=SERIES_NAMES[0],
            legendgroup="obs", showlegend=first, xaxis="x" + sfx, yaxis="y" + sfx,
            line=dict(color=RED, width=3.0 * S,
                      dash=",".join(px(v) for v in (12, 3.5, 2.5, 3.5)),
                      shape="spline", smoothing=0.6),
            connectgaps=False, hoverinfo="skip"))
    y201 = mod + tail
    fig.add_trace(go.Scatter(
        x=T[:len(y201)], y=y201, mode="lines", name=SERIES_NAMES[1],
        legendgroup="r201", showlegend=first, xaxis="x" + sfx, yaxis="y" + sfx,
        line=dict(color=GREEN, width=1.1 * S, dash=px(4) + "," + px(2),
                  shape="spline", smoothing=0.6),
        hoverinfo="skip"))
    fig.add_trace(go.Scatter(
        x=T[:len(mod)], y=mod, mode="lines", name=SERIES_NAMES[2],
        legendgroup="r202", showlegend=first, xaxis="x" + sfx, yaxis="y" + sfx,
        line=dict(color=BLUE, width=1.4 * S, shape="spline", smoothing=0.6),
        hoverinfo="skip"))

    axis_common = dict(
        showline=True, mirror=True, linecolor="black", linewidth=1.1 * S,
        ticks="outside", ticklen=4.9 * S, tickwidth=1.1 * S, tickcolor="black",
        showgrid=False, zeroline=False, tickfont=dict(size=TICK_FS, family=FONT),
    )
    layout["xaxis" + sfx] = dict(
        domain=xd, anchor="y" + sfx, range=[1, 12.99],
        tickvals=X_TICKS, ticktext=[str(v) for v in X_TICKS], **axis_common)
    layout["yaxis" + sfx] = dict(
        domain=yd, anchor="x" + sfx, range=list(Y_RANGES[k]),
        dtick=Y_DTICK[k], tick0=0, tickformat=".1f", **axis_common)
    annotations.append(dict(
        text=TITLES[k], xref="paper", yref="paper",
        x=(xd[0] + xd[1]) / 2, y=yd[1], xanchor="center", yanchor="bottom",
        yshift=5 * S, showarrow=False,
        font=dict(size=TITLE_FS, family=FONT, color="black")))
    if c in (0, 2):
        annotations.append(dict(
            text="Elevation (m)", xref="paper", yref="paper",
            x=(x0 - 60) / RW, y=(yd[0] + yd[1]) / 2,
            xanchor="center", yanchor="middle", textangle=-90, showarrow=False,
            font=dict(size=TICK_FS, family=FONT, color="black")))

layout["annotations"] = annotations
fig.update_layout(**layout)
fig.write_html("out.html")
